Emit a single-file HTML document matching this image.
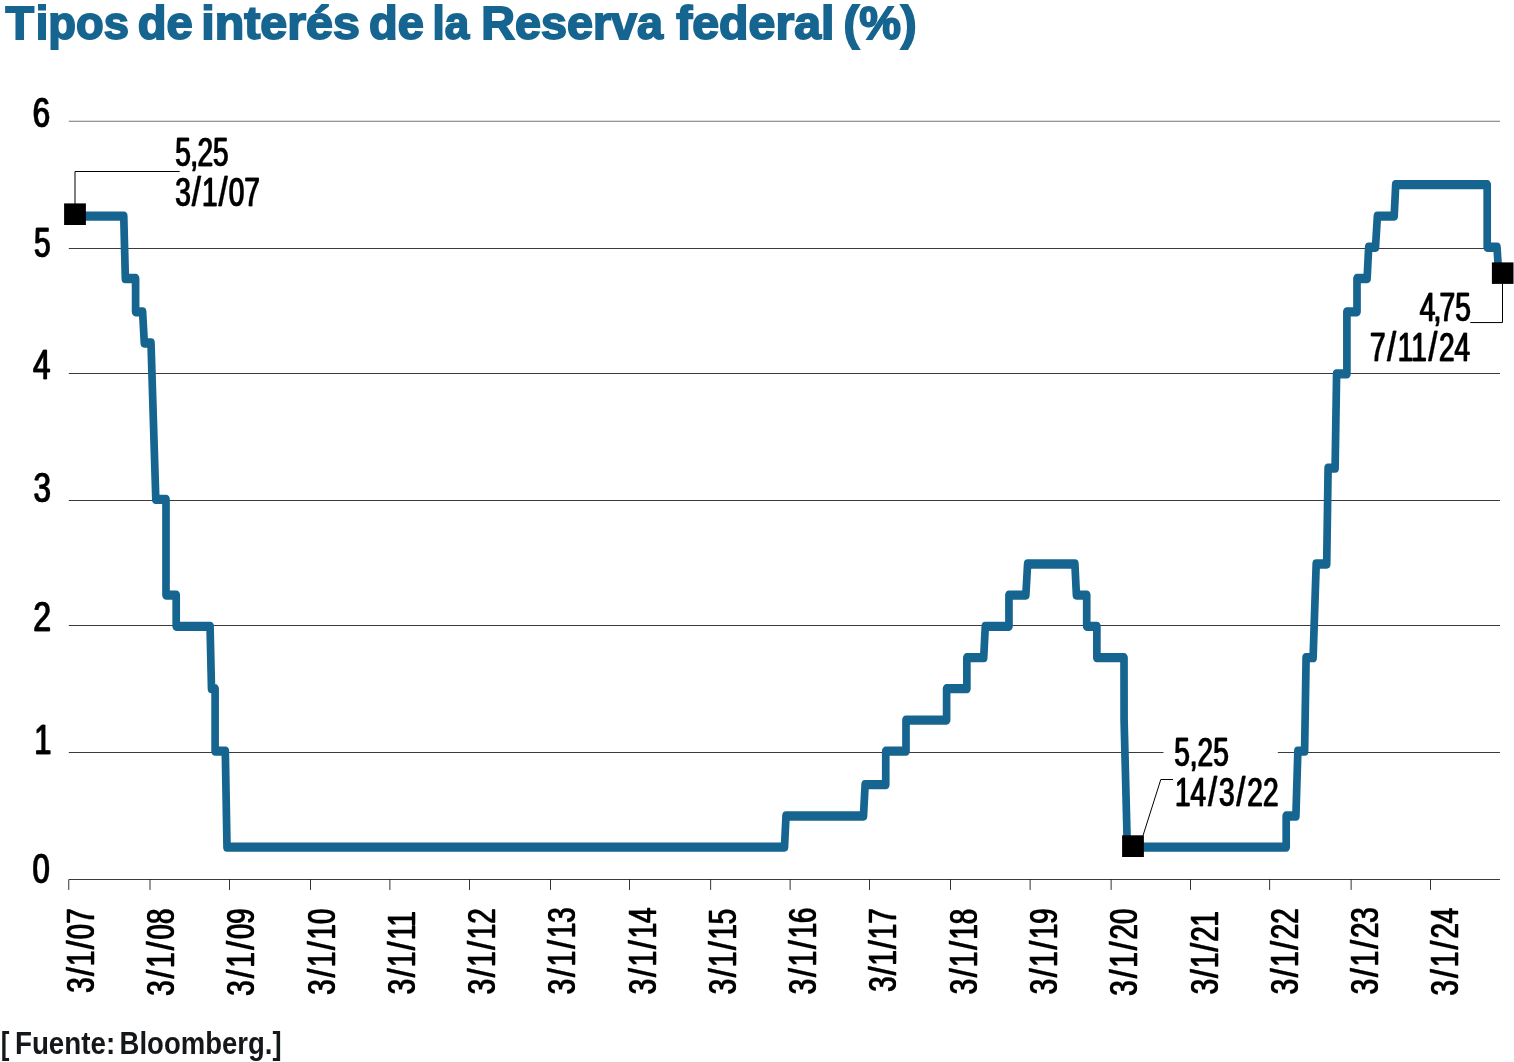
<!DOCTYPE html>
<html lang="es"><head><meta charset="utf-8">
<title>Tipos de interés de la Reserva federal (%)</title>
<style>
html,body{margin:0;padding:0;background:#fff}
body{width:1514px;height:1062px;overflow:hidden}
svg{display:block}
text{font-family:"Liberation Sans",Arial,Helvetica,sans-serif}
.h text,.v text{stroke:#000;stroke-width:0.30;stroke-linejoin:round}
.y text{stroke:#000;stroke-width:0.40;stroke-linejoin:round}
.h,.y{filter:drop-shadow(1px 0 0 #000)}
.v{filter:drop-shadow(0 -1px 0 #000)}
</style></head><body>
<svg width="1514" height="1062" viewBox="0 0 1514 1062" role="img" aria-label="Tipos de interés de la Reserva federal (%)">
<rect width="1514" height="1062" fill="#fff"/>
<text y="39" font-size="45.60" font-weight="700" fill="#166590" stroke="#166590" stroke-width="1.80" stroke-linejoin="miter" stroke-miterlimit="3"><tspan x="5.52" textLength="28.54" lengthAdjust="spacingAndGlyphs">T</tspan><tspan x="35.70" textLength="93.17" lengthAdjust="spacingAndGlyphs">ipos</tspan> <tspan x="137.84" textLength="54.99" lengthAdjust="spacingAndGlyphs">de</tspan> <tspan x="201.22" textLength="158.71" lengthAdjust="spacingAndGlyphs">interés</tspan> <tspan x="369.03" textLength="54.78" lengthAdjust="spacingAndGlyphs">de</tspan> <tspan x="432.51" textLength="36.66" lengthAdjust="spacingAndGlyphs">la</tspan> <tspan x="481.31" textLength="181.79" lengthAdjust="spacingAndGlyphs">Reserva</tspan> <tspan x="676.26" textLength="158.11" lengthAdjust="spacingAndGlyphs">federal</tspan> <tspan x="843.63" textLength="72.97" lengthAdjust="spacingAndGlyphs">(%)</tspan></text>
<g fill="#000">
<rect x="68.8" y="120.81" width="1431.2" height="0.77" fill-opacity="0.7"/>
<rect x="68.8" y="248.12" width="1431.2" height="0.77"/>
<rect x="68.8" y="373.12" width="1431.2" height="0.77"/>
<rect x="68.8" y="500.12" width="1431.2" height="0.77"/>
<rect x="68.8" y="625.12" width="1431.2" height="0.77"/>
<rect x="68.8" y="752.12" width="1431.2" height="0.77"/>
<rect x="68.8" y="879.12" width="1431.2" height="0.77"/>
<rect x="68.40" y="879.5" width="0.8" height="10.4"/>
<rect x="149.60" y="879.5" width="0.8" height="10.4"/>
<rect x="229.10" y="879.5" width="0.8" height="10.4"/>
<rect x="310.10" y="879.5" width="0.8" height="10.4"/>
<rect x="389.50" y="879.5" width="0.8" height="10.4"/>
<rect x="469.10" y="879.5" width="0.8" height="10.4"/>
<rect x="550.10" y="879.5" width="0.8" height="10.4"/>
<rect x="629.10" y="879.5" width="0.8" height="10.4"/>
<rect x="710.30" y="879.5" width="0.8" height="10.4"/>
<rect x="789.70" y="879.5" width="0.8" height="10.4"/>
<rect x="869.10" y="879.5" width="0.8" height="10.4"/>
<rect x="950.10" y="879.5" width="0.8" height="10.4"/>
<rect x="1029.70" y="879.5" width="0.8" height="10.4"/>
<rect x="1110.70" y="879.5" width="0.8" height="10.4"/>
<rect x="1190.10" y="879.5" width="0.8" height="10.4"/>
<rect x="1269.30" y="879.5" width="0.8" height="10.4"/>
<rect x="1350.70" y="879.5" width="0.8" height="10.4"/>
<rect x="1430.10" y="879.5" width="0.8" height="10.4"/>
</g>
<g class="y">
<text transform="translate(32.25 127.00) scale(0.7263 1)" font-size="42.80">6</text>
<text transform="translate(33.56 257.00) scale(0.6998 1)" font-size="42.80">5</text>
<text transform="translate(32.44 379.00) scale(0.7318 1)" font-size="42.80">4</text>
<text transform="translate(32.93 502.00) scale(0.7311 1)" font-size="42.80">3</text>
<text transform="translate(32.64 631.00) scale(0.7491 1)" font-size="42.80">2</text>
<text transform="translate(33.71 754.00) scale(0.7200 1)" font-size="42.80">1</text>
<text transform="translate(32.11 883.00) scale(0.7237 1)" font-size="42.80">0</text>
</g>
<rect x="1163.5" y="735" width="114.3" height="75" fill="#fff"/>
<path transform="scale(1 1.20779)" d="M69.40 178.92 L123.75 178.92 L125.35 230.59 L135.60 230.59 L135.60 258.16 L142.60 258.16 L144.30 283.99 L151.00 283.99 L155.80 413.40 L166.00 413.40 L166.00 492.68 L176.20 492.68 L176.20 518.55 L210.05 518.55 L211.50 570.21 L215.10 570.21 L215.10 621.96 L225.30 621.96 L227.00 701.36 L784.50 701.36 L786.00 675.61 L863.50 675.61 L865.10 649.70 L885.75 649.70 L885.75 621.96 L906.00 621.96 L906.00 596.17 L946.60 596.17 L946.60 570.21 L966.85 570.21 L966.85 544.55 L983.70 544.55 L985.30 518.55 L1008.95 518.55 L1008.95 492.68 L1025.85 492.68 L1027.60 466.97 L1074.90 466.97 L1076.40 492.68 L1086.70 492.68 L1086.70 518.55 L1096.85 518.55 L1096.85 544.55 L1124.00 544.55 L1124.10 596.17 L1127.30 701.36 L1286.20 701.36 L1286.20 675.61 L1295.90 675.61 L1297.85 621.96 L1304.60 621.96 L1306.10 544.55 L1313.10 544.55 L1316.20 466.97 L1326.70 466.97 L1328.10 387.57 L1335.10 387.57 L1336.60 309.57 L1346.90 309.57 L1346.90 258.16 L1357.00 258.16 L1357.00 230.59 L1367.10 230.59 L1368.70 204.71 L1375.50 204.71 L1377.40 178.92 L1394.20 178.92 L1395.70 152.92 L1487.20 152.92 L1487.20 204.71 L1497.00 204.71 L1499.00 230.59" fill="none" stroke="#166590" stroke-width="7.70" stroke-linejoin="round" stroke-linecap="butt"/>
<g fill="none" stroke="#000" stroke-width="1">
<path d="M75 204 V171.5 H179.7"/>
<path d="M1143 835.6 L1160.8 779.5 H1173"/>
<path d="M1502.5 283 V322.55 H1470.3"/>
</g>
<g fill="#000">
<rect x="64.1" y="203.4" width="21.8" height="21.6"/>
<rect x="1122.1" y="835.3" width="21.8" height="21.7"/>
<rect x="1491.9" y="262.4" width="21.6" height="21.5"/>
</g>
<g class="h">
<text transform="translate(174.80 166.00) scale(0.7000 1)" font-size="40.00" dx="0.00 -0.87 -0.87 0.00">5,25</text>
<text transform="translate(174.79 206.00) scale(0.7000 1)" font-size="40.00"><tspan>3</tspan><tspan dx="1.76" textLength="12.40" lengthAdjust="spacingAndGlyphs">/</tspan><tspan dx="1.76">1</tspan><tspan dx="1.76" textLength="12.40" lengthAdjust="spacingAndGlyphs">/</tspan><tspan dx="1.76">07</tspan></text>
<text transform="translate(1173.83 766.00) scale(0.7000 1)" font-size="40.00" dx="0.00 -0.05 -0.05 0.00">5,25</text>
<text transform="translate(1174.45 806.00) scale(0.7000 1)" font-size="40.00"><tspan>14</tspan><tspan dx="2.98" textLength="12.40" lengthAdjust="spacingAndGlyphs">/</tspan><tspan dx="2.98">3</tspan><tspan dx="2.98" textLength="12.40" lengthAdjust="spacingAndGlyphs">/</tspan><tspan dx="2.98">22</tspan></text>
<text transform="translate(1419.23 321.00) scale(0.7000 1)" font-size="40.00" dx="0.00 -2.47 -2.47 0.00">4,75</text>
<text transform="translate(1369.53 361.00) scale(0.7000 1)" font-size="40.00"><tspan>7</tspan><tspan dx="2.49" textLength="12.40" lengthAdjust="spacingAndGlyphs">/</tspan><tspan dx="2.49">11</tspan><tspan dx="2.49" textLength="12.40" lengthAdjust="spacingAndGlyphs">/</tspan><tspan dx="2.49">24</tspan></text>
</g>
<g class="v">
<text transform="translate(94.00 993.23) rotate(-90) scale(0.7000 1)" font-size="39.40"><tspan>3</tspan><tspan dx="1.96" textLength="12.40" lengthAdjust="spacingAndGlyphs">/</tspan><tspan dx="1.96">1</tspan><tspan dx="1.96" textLength="12.40" lengthAdjust="spacingAndGlyphs">/</tspan><tspan dx="1.96">07</tspan></text>
<text transform="translate(174.00 996.32) rotate(-90) scale(0.7000 1)" font-size="39.40"><tspan>3</tspan><tspan dx="2.97" textLength="12.40" lengthAdjust="spacingAndGlyphs">/</tspan><tspan dx="2.97">1</tspan><tspan dx="2.97" textLength="12.40" lengthAdjust="spacingAndGlyphs">/</tspan><tspan dx="2.97">08</tspan></text>
<text transform="translate(254.00 996.32) rotate(-90) scale(0.7000 1)" font-size="39.40"><tspan>3</tspan><tspan dx="3.14" textLength="12.40" lengthAdjust="spacingAndGlyphs">/</tspan><tspan dx="3.14">1</tspan><tspan dx="3.14" textLength="12.40" lengthAdjust="spacingAndGlyphs">/</tspan><tspan dx="3.14">09</tspan></text>
<text transform="translate(335.00 995.23) rotate(-90) scale(0.7000 1)" font-size="39.40"><tspan>3</tspan><tspan dx="2.60" textLength="12.40" lengthAdjust="spacingAndGlyphs">/</tspan><tspan dx="2.60">1</tspan><tspan dx="2.60" textLength="12.40" lengthAdjust="spacingAndGlyphs">/</tspan><tspan dx="2.60">10</tspan></text>
<text transform="translate(415.00 994.81) rotate(-90) scale(0.7000 1)" font-size="39.40"><tspan>3</tspan><tspan dx="2.29" textLength="12.40" lengthAdjust="spacingAndGlyphs">/</tspan><tspan dx="2.29">1</tspan><tspan dx="2.29" textLength="12.40" lengthAdjust="spacingAndGlyphs">/</tspan><tspan dx="2.29">11</tspan></text>
<text transform="translate(495.00 994.81) rotate(-90) scale(0.7000 1)" font-size="39.40"><tspan>3</tspan><tspan dx="2.53" textLength="12.40" lengthAdjust="spacingAndGlyphs">/</tspan><tspan dx="2.53">1</tspan><tspan dx="2.53" textLength="12.40" lengthAdjust="spacingAndGlyphs">/</tspan><tspan dx="2.53">12</tspan></text>
<text transform="translate(575.00 994.81) rotate(-90) scale(0.7000 1)" font-size="39.40"><tspan>3</tspan><tspan dx="2.96" textLength="12.40" lengthAdjust="spacingAndGlyphs">/</tspan><tspan dx="2.96">1</tspan><tspan dx="2.96" textLength="12.40" lengthAdjust="spacingAndGlyphs">/</tspan><tspan dx="2.96">13</tspan></text>
<text transform="translate(656.00 994.81) rotate(-90) scale(0.7000 1)" font-size="39.40"><tspan>3</tspan><tspan dx="2.85" textLength="12.40" lengthAdjust="spacingAndGlyphs">/</tspan><tspan dx="2.85">1</tspan><tspan dx="2.85" textLength="12.40" lengthAdjust="spacingAndGlyphs">/</tspan><tspan dx="2.85">14</tspan></text>
<text transform="translate(736.00 994.81) rotate(-90) scale(0.7000 1)" font-size="39.40"><tspan>3</tspan><tspan dx="2.41" textLength="12.40" lengthAdjust="spacingAndGlyphs">/</tspan><tspan dx="2.41">1</tspan><tspan dx="2.41" textLength="12.40" lengthAdjust="spacingAndGlyphs">/</tspan><tspan dx="2.41">15</tspan></text>
<text transform="translate(816.00 994.81) rotate(-90) scale(0.7000 1)" font-size="39.40"><tspan>3</tspan><tspan dx="2.82" textLength="12.40" lengthAdjust="spacingAndGlyphs">/</tspan><tspan dx="2.82">1</tspan><tspan dx="2.82" textLength="12.40" lengthAdjust="spacingAndGlyphs">/</tspan><tspan dx="2.82">16</tspan></text>
<text transform="translate(896.00 992.23) rotate(-90) scale(0.7000 1)" font-size="39.40"><tspan>3</tspan><tspan dx="1.60" textLength="12.40" lengthAdjust="spacingAndGlyphs">/</tspan><tspan dx="1.60">1</tspan><tspan dx="1.60" textLength="12.40" lengthAdjust="spacingAndGlyphs">/</tspan><tspan dx="1.60">17</tspan></text>
<text transform="translate(977.00 994.81) rotate(-90) scale(0.7000 1)" font-size="39.40"><tspan>3</tspan><tspan dx="2.42" textLength="12.40" lengthAdjust="spacingAndGlyphs">/</tspan><tspan dx="2.42">1</tspan><tspan dx="2.42" textLength="12.40" lengthAdjust="spacingAndGlyphs">/</tspan><tspan dx="2.42">18</tspan></text>
<text transform="translate(1057.00 994.81) rotate(-90) scale(0.7000 1)" font-size="39.40"><tspan>3</tspan><tspan dx="2.55" textLength="12.40" lengthAdjust="spacingAndGlyphs">/</tspan><tspan dx="2.55">1</tspan><tspan dx="2.55" textLength="12.40" lengthAdjust="spacingAndGlyphs">/</tspan><tspan dx="2.55">19</tspan></text>
<text transform="translate(1137.00 996.23) rotate(-90) scale(0.7000 1)" font-size="39.40"><tspan>3</tspan><tspan dx="2.96" textLength="12.40" lengthAdjust="spacingAndGlyphs">/</tspan><tspan dx="2.96">1</tspan><tspan dx="2.96" textLength="12.40" lengthAdjust="spacingAndGlyphs">/</tspan><tspan dx="2.96">20</tspan></text>
<text transform="translate(1218.00 994.81) rotate(-90) scale(0.7000 1)" font-size="39.40"><tspan>3</tspan><tspan dx="1.57" textLength="12.40" lengthAdjust="spacingAndGlyphs">/</tspan><tspan dx="1.57">1</tspan><tspan dx="1.57" textLength="12.40" lengthAdjust="spacingAndGlyphs">/</tspan><tspan dx="1.57">21</tspan></text>
<text transform="translate(1298.00 994.81) rotate(-90) scale(0.7000 1)" font-size="39.40"><tspan>3</tspan><tspan dx="2.53" textLength="12.40" lengthAdjust="spacingAndGlyphs">/</tspan><tspan dx="2.53">1</tspan><tspan dx="2.53" textLength="12.40" lengthAdjust="spacingAndGlyphs">/</tspan><tspan dx="2.53">22</tspan></text>
<text transform="translate(1378.00 994.81) rotate(-90) scale(0.7000 1)" font-size="39.40"><tspan>3</tspan><tspan dx="2.96" textLength="12.40" lengthAdjust="spacingAndGlyphs">/</tspan><tspan dx="2.96">1</tspan><tspan dx="2.96" textLength="12.40" lengthAdjust="spacingAndGlyphs">/</tspan><tspan dx="2.96">23</tspan></text>
<text transform="translate(1458.00 996.02) rotate(-90) scale(0.7000 1)" font-size="39.40"><tspan>3</tspan><tspan dx="3.18" textLength="12.40" lengthAdjust="spacingAndGlyphs">/</tspan><tspan dx="3.18">1</tspan><tspan dx="3.18" textLength="12.40" lengthAdjust="spacingAndGlyphs">/</tspan><tspan dx="3.18">24</tspan></text>
</g>
<text y="1054" font-size="31.60" font-weight="700" fill="#14181a"><tspan x="0.76" textLength="8.66" lengthAdjust="spacingAndGlyphs">[</tspan> <tspan x="14.95" textLength="100.25" lengthAdjust="spacingAndGlyphs">Fuente:</tspan> <tspan x="119.57" textLength="162.02" lengthAdjust="spacingAndGlyphs">Bloomberg.]</tspan></text>
</svg></body></html>
